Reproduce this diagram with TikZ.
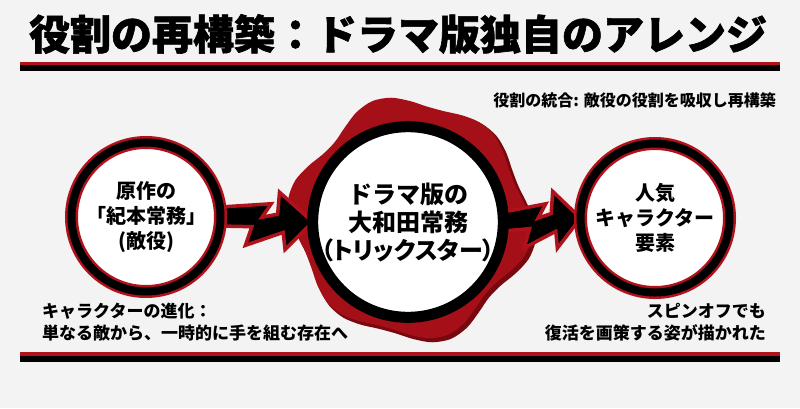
\documentclass[tikz,border=0pt]{standalone}
\usepackage{fontspec}
\setmainfont{Noto Sans CJK JP}
\newfontfamily\heavy{Noto Sans CJK JP}[FakeBold=1.5]
\usetikzlibrary{calc}

\definecolor{paper}{RGB}{243,243,243}
\definecolor{ringred}{RGB}{176,18,27}
\definecolor{blobred}{RGB}{165,15,24}
\definecolor{blobdark}{RGB}{120,8,14}

\pgfdeclarelayer{back}
\pgfdeclarelayer{mid}
\pgfsetlayers{back,mid,main}

\tikzset{
  ring/.style={circle, outer sep=0pt, inner sep=0pt, minimum size=149pt, fill=white,
    draw=ringred, line width=2.5pt, double=black, double distance=8pt, align=center,
    font=\bfseries\fontsize{20}{25}\selectfont},
  core/.style={circle, outer sep=0pt, inner sep=0pt, minimum size=190pt, fill=white,
    draw=black, line width=11pt, align=center, font=\bfseries\fontsize{24}{28}\selectfont},
  bolt/.style={fill=black, draw=ringred, line width=3.5pt, line join=miter, miter limit=4},
  note/.style={inner sep=0pt, font=\bfseries\fontsize{17}{22}\selectfont},
}

% zigzag arrow from the east side of #1 to the west side of #2
\newcommand{\zap}[2]{%
  \coordinate (zs) at (#1.east);
  \coordinate (zt) at (#2.west);
  \filldraw[bolt] ($(zs)+(0,-10)$) -- ($(zs)!.55!(zt)+(0,-16)$) -- ($(zs)!.45!(zt)+(0,-2)$)
    -- ($(zs)!.62!(zt)+(0,-6)$) -- ($(zs)!.64!(zt)+(0,-28)$) -- (zt)
    -- ($(zs)!.70!(zt)+(0,29)$) -- ($(zs)!.68!(zt)+(0,12)$) -- ($(zs)!.27!(zt)+(0,27)$)
    -- ($(zs)!.34!(zt)+(0,8)$) -- ($(zs)+(0,9)$) -- cycle;}

\begin{document}
\begin{tikzpicture}[x=1pt, y=-1pt]
  \useasboundingbox (0,0) rectangle (800,408);

  \node[inner sep=0pt, font=\heavy\bfseries\fontsize{41}{45}\selectfont] (title) at (398,34)
    {役割の再構築：ドラマ版独自のアレンジ};
  \fill[ringred] (20,62) rectangle (780,65);
  \fill[black] (20,65) rectangle (780,71);
  \fill[ringred] (20,352) rectangle (780,356);
  \fill[black] (20,356) rectangle (780,362);

  \node[inner sep=0pt, anchor=east, font=\bfseries\fontsize{16}{20}\selectfont] (merge)
    at (776,100) {役割の統合: 敵役の役割を吸収し再構築};

  \node[ring] (orig) at (146,217) {原作の\\「紀本常務」\\(敵役)};
  \node[core] (drama) at (408,222) {ドラマ版の\\大和田常務\\{\addfontfeatures{RawFeature=+palt}（トリックスター）}};
  \node[ring] (pop) at (655,218) {人気\\キャラクター\\要素};

  \begin{pgfonlayer}{back}
    \fill[paper] (0,0) rectangle (800,408);
    \fill[blobdark] plot[smooth cycle, samples=40, domain=0:351]
      ({413+(116+6*sin(6*\x+20)+3*cos(4*\x))*cos(\x)}, {221+(117+6*sin(6*\x+20)+3*cos(4*\x))*sin(\x)});
    \fill[blobred] plot[smooth cycle, samples=40, domain=0:351]
      ({410+(115+6*sin(6*\x+20)+3*cos(4*\x))*cos(\x)}, {218+(116+6*sin(6*\x+20)+3*cos(4*\x))*sin(\x)});
  \end{pgfonlayer}
  \begin{pgfonlayer}{mid}
    \zap{orig}{drama}
    \zap{drama}{pop}
  \end{pgfonlayer}

  \node[note, anchor=west, align=left] (evol) at (42,322)
    {キャラクターの進化：\\単なる敵から、一時的に手を組む存在へ};
  \node[note, anchor=east, align=right] (spin) at (766,322)
    {スピンオフでも\\復活を画策する姿が描かれた};
\end{tikzpicture}
\end{document}
